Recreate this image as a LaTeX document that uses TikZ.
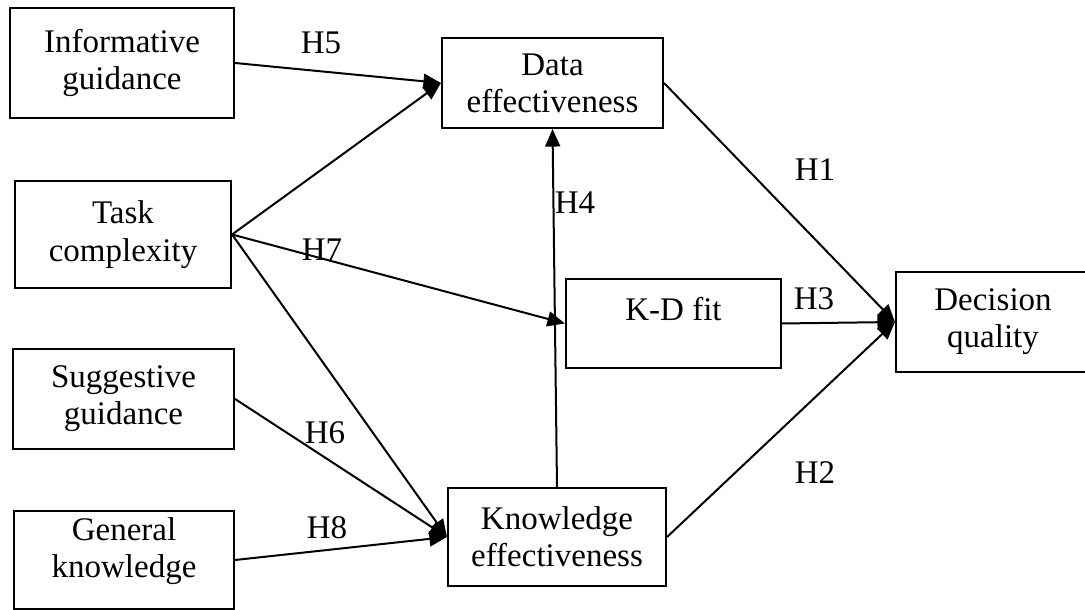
\documentclass[tikz,border=0pt]{standalone}
\usepackage{fontspec}
\setmainfont{Liberation Serif}
\usetikzlibrary{arrows.meta}

\begin{document}
\begin{tikzpicture}[
  x=0.4pt, y=-0.4pt,
  font=\fontsize{13.2}{14.9}\selectfont,
  box/.style={draw, line width=0.85pt, rectangle, align=center, inner sep=0pt},
  hyp/.style={inner sep=0pt},
  link/.style={line width=0.8pt, -{Triangle[length=7pt,width=6pt]}},
]
\useasboundingbox (0,0) rectangle (1085,610);

% constructs
\node[box, minimum width=89.6pt, minimum height=44pt]   (ig) at (122,63)     {Informative\\guidance};
\node[box, minimum width=86.4pt, minimum height=42.8pt] (tc) at (123,234.5)  {Task\\complexity};
\node[box, minimum width=88.4pt, minimum height=40pt]   (sg) at (123.5,399)  {Suggestive\\guidance};
\node[box, minimum width=88pt,   minimum height=39.2pt,
      label={[align=center, yshift=3.6pt]center:General\\knowledge}] (gk) at (124,560) {};
\node[box, minimum width=88.4pt, minimum height=36pt]   (de) at (552.5,83)   {Data\\effectiveness};
\node[box, minimum width=86pt,   minimum height=35.6pt,
      label={[yshift=5.6pt]center:K-D fit}] (kd) at (673.5,323.5) {};
\node[box, minimum width=87.2pt, minimum height=39.2pt] (ke) at (557,537)    {Knowledge\\effectiveness};
\node[box, minimum width=77.6pt, minimum height=40pt]   (dq) at (993,322)    {Decision\\quality};

% hypothesised paths
\draw[link] (ig.east) -- (de.west);
\draw[link] (tc.east) -- (de.west);
\draw[link] (tc.east) -- (kd.west);
\draw[link] (tc.east) -- (ke.west);
\draw[link] (sg.east) -- (ke.west);
\draw[link] (gk.east) -- (ke.west);
\draw[link] (ke.north) -- (de.south);
\draw[link] (de.east) -- (dq.west);
\draw[link] (kd.east) -- (dq.west);
\draw[link] (ke.east) -- (dq.west);

% hypothesis labels
\node[hyp] (h5) at (321,43)  {H5};
\node[hyp] (h7) at (322,250) {H7};
\node[hyp] (h4) at (575,203) {H4};
\node[hyp] (h1) at (815,170) {H1};
\node[hyp] (h3) at (814,299) {H3};
\node[hyp] (h2) at (815,473) {H2};
\node[hyp] (h6) at (325,433) {H6};
\node[hyp] (h8) at (327,528) {H8};
\end{tikzpicture}
\end{document}
